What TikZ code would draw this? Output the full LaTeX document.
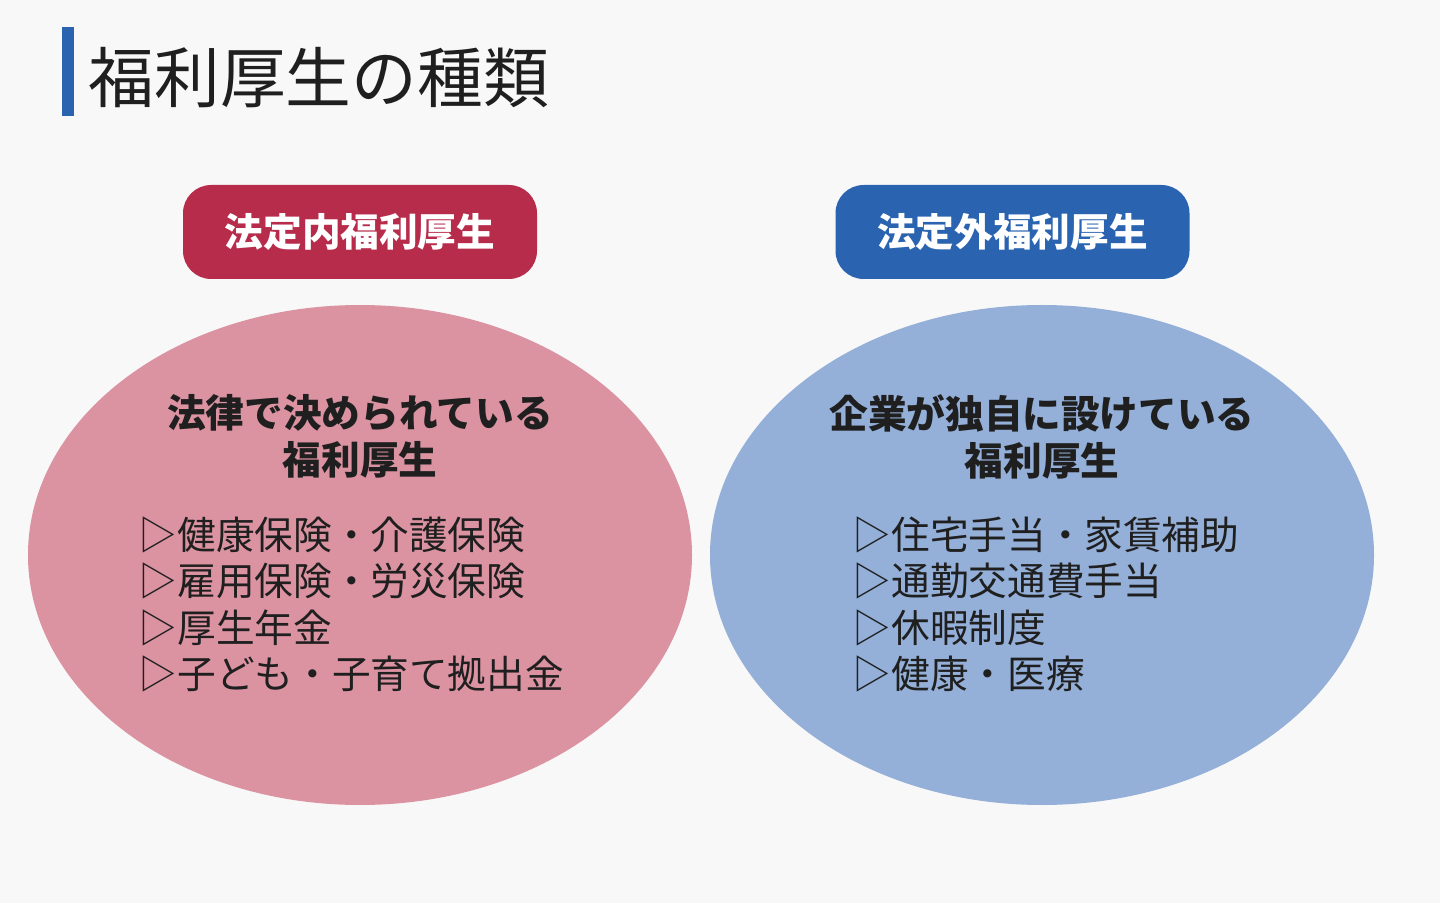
\documentclass[tikz,border=0pt]{standalone}
\usepackage{fontspec}
\setmainfont{Noto Sans CJK JP}
\usepackage{tikz}
\usepackage{xcolor}
\usetikzlibrary{positioning,calc,shapes.geometric}
\definecolor{bg}{HTML}{F8F8F8}
\definecolor{ink}{HTML}{1F1F1F}
\definecolor{legal}{HTML}{B72B4B}
\definecolor{legalsoft}{HTML}{DB93A2}
\definecolor{corp}{HTML}{2A63B0}
\definecolor{corpsoft}{HTML}{94AFD8}
\tikzset{
  tag/.style={rounded corners=8pt, minimum width=3.54cm, minimum height=0.94cm,
              inner sep=0pt, text=white, font=\fontsize{11}{13}\selectfont\bfseries},
  blob/.style={ellipse, minimum width=6.64cm, minimum height=5.00cm, inner sep=0pt},
  heading/.style={align=center, text=ink, font=\fontsize{11}{13.4}\selectfont\bfseries},
  items/.style={align=left, anchor=west, text=ink, inner sep=0pt,
                font=\fontsize{11}{13.2}\selectfont}
}

\begin{document}
\begin{tikzpicture}[x=1cm,y=1cm]
        % page
        \fill[bg] (0,0) rectangle (14.40,9.03);
        \useasboundingbox (0,0) rectangle (14.40,9.03);

        % title
        \fill[corp] (0.62,7.87) rectangle (0.74,8.76);
        \node[anchor=west,inner sep=0pt,text=ink,font=\fontsize{18.7}{20}\selectfont] (title) at (0.88,8.25) {福利厚生の種類};

        % two labels
        \node[tag,fill=legal] (inlaw) at (3.60,6.71) {法定内福利厚生};
        \node[tag,fill=corp] (outlaw) at (10.125,6.71) {法定外福利厚生};

        % two ellipses
        \node[blob,fill=legalsoft] (lblob) at (3.60,3.48) {};
        \node[blob,fill=corpsoft] (rblob) at (10.42,3.48) {};

        % texts inside
        \node[heading] (lhead) at (3.60,4.665) {法律で決められている\\福利厚生};
        \node[heading] (rhead) at (10.42,4.665) {企業が独自に設けている\\福利厚生};
        \node[items] (llist) at (1.38,2.985)
          {▷健康保険・介護保険\\▷雇用保険・労災保険\\▷厚生年金\\▷子ども・子育て拠出金};
        \node[items] (rlist) at (8.52,2.985)
          {▷住宅手当・家賃補助\\▷通勤交通費手当\\▷休暇制度\\▷健康・医療};
      \end{tikzpicture}
\end{document}
